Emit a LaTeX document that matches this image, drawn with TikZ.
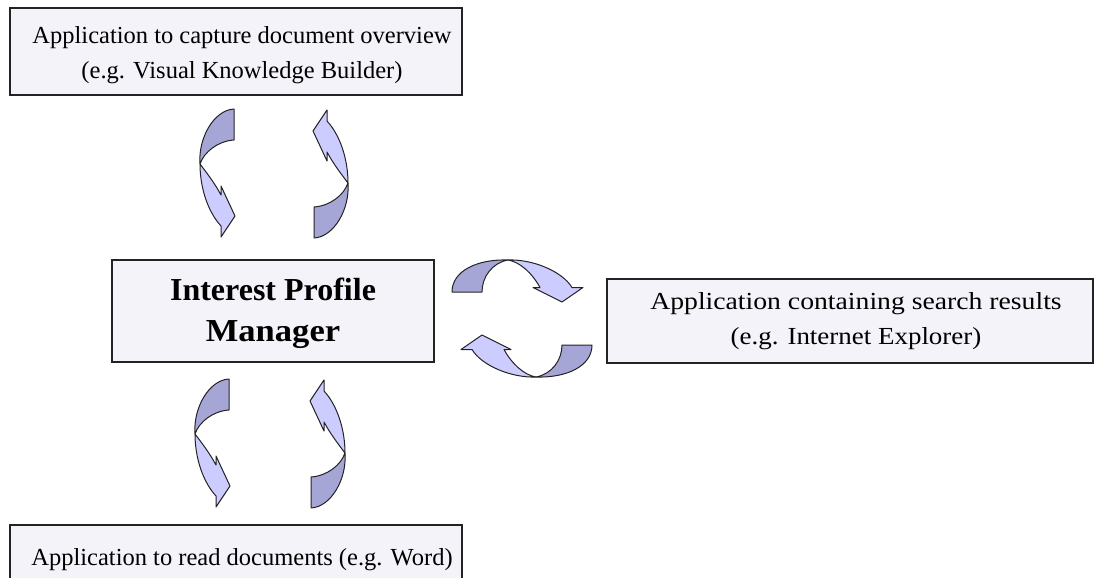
\documentclass[tikz,border=0pt]{standalone}
\usepackage{graphicx}
\usepackage{fontspec}
\setmainfont{Liberation Serif}
\definecolor{boxfill}{RGB}{245,243,250}
\definecolor{adark}{RGB}{166,166,214}
\definecolor{alight}{RGB}{204,204,255}
\definecolor{edgecol}{RGB}{35,35,35}
\tikzset{
  appbox/.style={draw=edgecol, line width=1.3pt, fill=boxfill, inner sep=0pt},
  boxtext/.style={align=center, inner sep=0pt, font=\fontsize{24.5}{35}\selectfont},
  boldtext/.style={align=center, inner sep=0pt, font=\bfseries\fontsize{32}{41}\selectfont},
  darkpart/.style={fill=adark, draw=edgecol, line width=1pt, line join=round},
  lightpart/.style={fill=alight, draw=edgecol, line width=1pt, line join=round},
}
\newcommand{\VArrowShape}{%
  \path[lightpart] (200,164) .. controls (200,188) and (208,212) .. (221,226)
    -- (221,237) -- (235,216) -- (221,186) -- (221,195)
    .. controls (214,182) and (206,172) .. (200,164) -- cycle;
  \path[darkpart] (234,109) .. controls (214,110) and (198,138) .. (200,164)
    .. controls (204,152) and (218,141) .. (234,140) -- cycle;
}
\newcommand{\HArrowShape}{%
  \path[lightpart] (56,1) .. controls (80,0) and (110,12) .. (120,28.5)
    -- (131,28.5) -- (110,43) -- (81,28.5) -- (88,28.5)
    .. controls (80,14) and (68,3) .. (56,1) -- cycle;
  \path[darkpart] (0,33) .. controls (0,12) and (25,0) .. (56,1)
    .. controls (40,4) and (30,18) .. (30,33) -- cycle;
}
\begin{document}
\begin{tikzpicture}[x=1pt,y=-1pt]
\useasboundingbox (0,0) rectangle (1104,578);
\clip (0,0) rectangle (1104,578);

% boxes
\node[appbox, minimum width=452pt, minimum height=87pt] (capture) at (236,51.5) {};
\node[appbox, minimum width=322pt, minimum height=102pt] (ipm) at (273,311) {};
\node[appbox, minimum width=486pt, minimum height=84pt] (search) at (850,321) {};
\node[appbox, minimum width=452pt, minimum height=62pt] (read) at (236,556) {};

% texts
\node[boxtext] (capturetext) at ([xshift=6pt,yshift=-4pt]capture.center)
  {Application to capture document overview\\(e.g. Visual Knowledge Builder)};
\node[boldtext] (ipmtext) at ([yshift=-2pt]ipm.center)
  {Interest Profile\\\scalebox{1.08}[1]{Manager}};
\node[boxtext] (searchtext) at ([xshift=6pt]search.center)
  {\scalebox{1.13}[1]{Application containing search results}\\
   \scalebox{1.1}[1]{(e.g. Internet Explorer)}};
\node[boxtext] (readtext) at ([xshift=6pt,yshift=-4pt]read.center)
  {Application to read documents (e.g. Word)};

% vertical arrows between capture box and IPM
\begin{scope}
  \VArrowShape
\end{scope}
\begin{scope}[rotate around={180:(274,173.5)}]
  \VArrowShape
\end{scope}
% vertical arrows between IPM and read box
\begin{scope}[shift={(-5,270)}]
  \VArrowShape
\end{scope}
\begin{scope}[shift={(-3,270)}]
  \begin{scope}[rotate around={180:(274,173.5)}]
    \VArrowShape
  \end{scope}
\end{scope}
% horizontal arrows between IPM and search box
\begin{scope}[shift={(452,259)}]
  \HArrowShape
\end{scope}
\begin{scope}[rotate around={180:(522,318.5)}]
  \begin{scope}[shift={(452,259)}]
    \HArrowShape
  \end{scope}
\end{scope}
\end{tikzpicture}
\end{document}
